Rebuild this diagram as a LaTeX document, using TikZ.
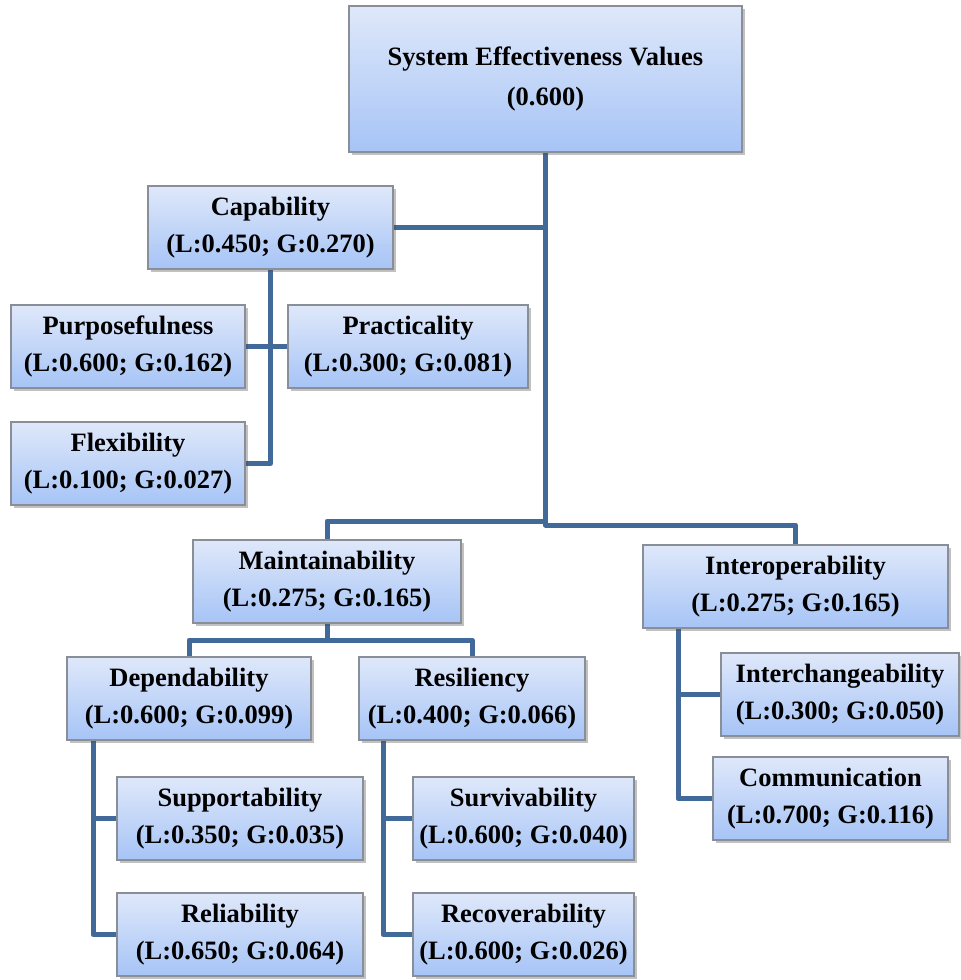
\documentclass[tikz,border=0pt]{standalone}
\usepackage{fontspec}
\setmainfont{Liberation Serif}
\usetikzlibrary{shadows,backgrounds}
\definecolor{linec}{HTML}{41699A}
\definecolor{boxtop}{HTML}{DFE8FA}
\definecolor{boxbot}{HTML}{A6C4F6}
\definecolor{boxborder}{HTML}{8A8E96}
\tikzset{
  hbox/.style={rectangle, draw=boxborder, line width=1.3pt, top color=boxtop, bottom color=boxbot,
    drop shadow={shadow xshift=2.5pt, shadow yshift=-3pt, opacity=0.35, fill=black!70},
    inner sep=0pt, align=center, font=\fontsize{26.5}{37}\selectfont\bfseries},
  conn/.style={draw=linec, line width=5pt, line join=round}
}
\begin{document}
\begin{tikzpicture}[x=1pt,y=-1pt]
\useasboundingbox (0,0) rectangle (961,980);
\node[hbox, minimum width=393pt, minimum height=146pt, font=\fontsize{26.5}{40}\selectfont\bfseries] (top) at (545.5,79) {System Effectiveness Values\\(0.600)};
\node[hbox, minimum width=245pt, minimum height=83pt] (cap) at (270.5,227.5) {Capability\\(L:0.450; G:0.270)};
\node[hbox, minimum width=234pt, minimum height=83pt] (purp) at (128,346.5) {Purposefulness\\(L:0.600; G:0.162)};
\node[hbox, minimum width=240pt, minimum height=83pt] (prac) at (408,346.5) {Practicality\\(L:0.300; G:0.081)};
\node[hbox, minimum width=234pt, minimum height=83pt] (flex) at (128,463.5) {Flexibility\\(L:0.100; G:0.027)};
\node[hbox, minimum width=268pt, minimum height=83pt] (maint) at (327,581.5) {Maintainability\\(L:0.275; G:0.165)};
\node[hbox, minimum width=305pt, minimum height=83pt] (inter) at (795.5,586.5) {Interoperability\\(L:0.275; G:0.165)};
\node[hbox, minimum width=244pt, minimum height=83pt] (dep) at (189,698.5) {Dependability\\(L:0.600; G:0.099)};
\node[hbox, minimum width=226pt, minimum height=83pt] (res) at (472,698.5) {Resiliency\\(L:0.400; G:0.066)};
\node[hbox, minimum width=238pt, minimum height=83pt] (ich) at (840,694.5) {Interchangeability\\(L:0.300; G:0.050)};
\node[hbox, minimum width=235pt, minimum height=83pt] (comm) at (830.5,798.5) {Communication\\(L:0.700; G:0.116)};
\node[hbox, minimum width=246pt, minimum height=83pt] (supp) at (240,818.5) {Supportability\\(L:0.350; G:0.035)};
\node[hbox, minimum width=246pt, minimum height=83pt] (rel) at (240,934.5) {Reliability\\(L:0.650; G:0.064)};
\node[hbox, minimum width=221pt, minimum height=83pt] (surv) at (523.5,818.5) {Survivability\\(L:0.600; G:0.040)};
\node[hbox, minimum width=221pt, minimum height=83pt] (recov) at (523.5,934.5) {Recoverability\\(L:0.600; G:0.026)};
\coordinate (jr) at (795.5,525);
\coordinate (jl) at (327,521);
\coordinate (mj) at (327,640);
\coordinate (dv) at (93,740);
\coordinate (rv) at (383,740);
\coordinate (iv) at (678,628);
\begin{pgfonlayer}{background}
\draw[conn] (top.south) |- (jr) -- (inter.north);
\draw[conn] (top.south |- jl) -- (jl) -- (maint.north);
\draw[conn] (cap.east) -- (cap.east -| top.south);
\draw[conn] (cap.south) |- (flex.east);
\draw[conn] (purp.east) -- (prac.west);
\draw[conn] (maint.south) -- (mj);
\draw[conn] (dep.north) |- (mj) -| (res.north);
\draw[conn] (dv) |- (rel.west);
\draw[conn] (supp.west) -- (supp.west -| dv);
\draw[conn] (rv) |- (recov.west);
\draw[conn] (surv.west) -- (surv.west -| rv);
\draw[conn] (iv) |- (comm.west);
\draw[conn] (ich.west) -- (ich.west -| iv);
\end{pgfonlayer}
\end{tikzpicture}
\end{document}
